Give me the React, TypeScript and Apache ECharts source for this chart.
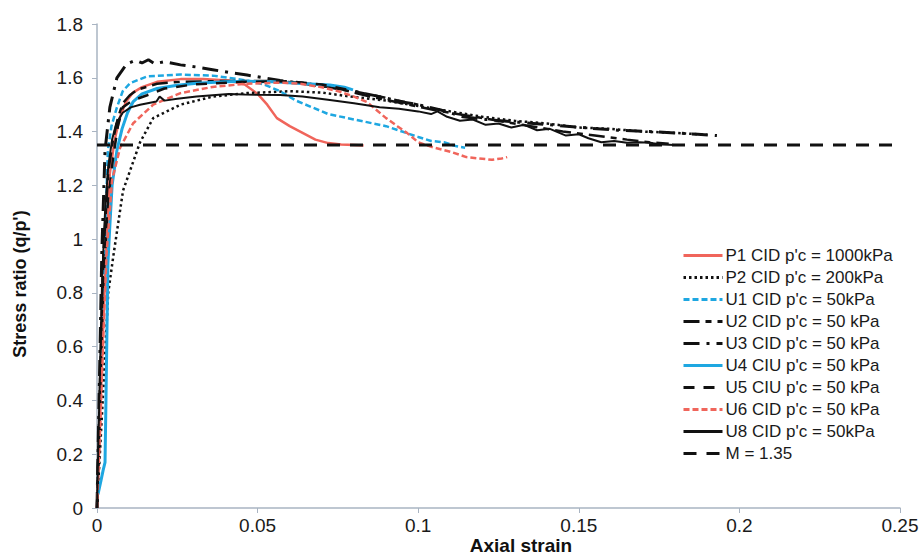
import { useEffect, useRef } from "react"
import * as echarts from "echarts"

// axial strain / stress ratio pairs
const p1Data = [
  [0, 0], [0.001, 0.35], [0.002, 0.7], [0.003, 1.0], [0.004, 1.245], [0.0055, 1.37],
  [0.0072, 1.455], [0.009, 1.51], [0.0112, 1.545], [0.014, 1.565], [0.0187, 1.585],
  [0.026, 1.595], [0.033, 1.595], [0.041, 1.59], [0.046, 1.575], [0.05, 1.54],
  [0.053, 1.5], [0.056, 1.45], [0.06, 1.42], [0.064, 1.395], [0.068, 1.37],
  [0.072, 1.357], [0.076, 1.352], [0.08, 1.35], [0.083, 1.348],
]
const p2Data = [
  [0, 0], [0.002, 0.45], [0.0035, 0.8], [0.005, 0.93], [0.0081, 1.18], [0.0134, 1.36],
  [0.0175, 1.45], [0.026, 1.5], [0.036, 1.53], [0.0467, 1.543], [0.06, 1.55],
  [0.07, 1.545], [0.079, 1.53], [0.09, 1.515], [0.1, 1.495], [0.11, 1.475],
  [0.12, 1.455], [0.13, 1.44], [0.14, 1.43], [0.15, 1.415], [0.16, 1.41],
  [0.17, 1.4], [0.18, 1.395], [0.19, 1.388],
]
const u1Data = [
  [0, 0], [0.001, 0.4], [0.002, 0.85], [0.0034, 1.33], [0.0045, 1.42], [0.0062, 1.49],
  [0.008, 1.55], [0.0103, 1.58], [0.0156, 1.605], [0.026, 1.612], [0.036, 1.608],
  [0.0467, 1.59], [0.052, 1.575], [0.057, 1.55], [0.062, 1.515], [0.067, 1.49],
  [0.072, 1.465], [0.078, 1.45], [0.084, 1.435], [0.09, 1.42], [0.095, 1.4],
  [0.1, 1.38], [0.104, 1.365], [0.108, 1.36], [0.112, 1.345], [0.1146, 1.34],
]
const u2Data = [
  [0, 0], [0.001, 0.5], [0.002, 0.95], [0.0035, 1.25], [0.005, 1.37], [0.0065, 1.45],
  [0.008, 1.505], [0.0102, 1.535], [0.0125, 1.555], [0.0187, 1.578], [0.026, 1.585],
  [0.04, 1.588], [0.055, 1.588], [0.065, 1.58], [0.075, 1.56], [0.085, 1.53],
  [0.095, 1.505], [0.105, 1.48], [0.115, 1.46], [0.125, 1.44], [0.135, 1.42],
  [0.145, 1.4], [0.155, 1.385], [0.165, 1.37], [0.172, 1.36], [0.178, 1.355],
]
const u3Data = [
  [0, 0], [0.0008, 0.5], [0.0015, 0.95], [0.0025, 1.33], [0.004, 1.49], [0.0062, 1.6],
  [0.0093, 1.652], [0.012, 1.665], [0.014, 1.655], [0.016, 1.667], [0.018, 1.652],
  [0.021, 1.66], [0.026, 1.648], [0.031, 1.64], [0.036, 1.63], [0.041, 1.62],
  [0.0467, 1.61], [0.052, 1.6], [0.057, 1.59], [0.065, 1.578], [0.0725, 1.565],
  [0.08, 1.55], [0.088, 1.53], [0.095, 1.51], [0.1, 1.5], [0.107, 1.48],
  [0.114, 1.455], [0.121, 1.445], [0.131, 1.435], [0.141, 1.425], [0.153, 1.413],
  [0.162, 1.405], [0.172, 1.4], [0.18, 1.395], [0.187, 1.39], [0.193, 1.385],
]
const u4Data = [
  [0.0003, 0.05], [0.0012, 0.1], [0.0019, 0.14], [0.0025, 0.17], [0.0028, 0.41],
  [0.0031, 0.66], [0.0034, 0.91], [0.004, 1.05], [0.0047, 1.2], [0.0062, 1.33],
  [0.0078, 1.41], [0.0095, 1.47], [0.0112, 1.51], [0.014, 1.54], [0.0187, 1.56],
  [0.025, 1.572], [0.031, 1.58], [0.04, 1.585], [0.0467, 1.587], [0.055, 1.585],
  [0.062, 1.58], [0.0725, 1.573], [0.077, 1.565], [0.0797, 1.555],
]
const u5Data = [
  [0, 0], [0.001, 0.45], [0.002, 0.85], [0.0035, 1.15], [0.005, 1.3], [0.0065, 1.42],
  [0.008, 1.49], [0.011, 1.515], [0.0156, 1.535], [0.021, 1.56], [0.03, 1.575],
  [0.045, 1.585], [0.06, 1.587], [0.07, 1.575], [0.078, 1.555], [0.084, 1.54],
  [0.09, 1.525], [0.096, 1.51], [0.1, 1.5],
]
const u6Data = [
  [0, 0], [0.001, 0.3], [0.002, 0.65], [0.003, 0.95], [0.0047, 1.22], [0.0072, 1.34],
  [0.0112, 1.43], [0.0175, 1.5], [0.026, 1.543], [0.036, 1.566], [0.0467, 1.578],
  [0.057, 1.582], [0.063, 1.578], [0.07, 1.565], [0.0757, 1.548], [0.08, 1.53],
  [0.084, 1.51], [0.087, 1.48], [0.09, 1.45], [0.0935, 1.42], [0.0965, 1.395],
  [0.1, 1.36], [0.105, 1.34], [0.11, 1.325], [0.115, 1.305], [0.119, 1.3],
  [0.123, 1.295], [0.126, 1.3], [0.1277, 1.305],
]
const u8Data = [
  [0, 0], [0.0008, 0.45], [0.0016, 0.85], [0.0025, 1.1], [0.0035, 1.27], [0.0047, 1.37],
  [0.006, 1.43], [0.008, 1.47], [0.0105, 1.49], [0.0134, 1.5], [0.0185, 1.512],
  [0.0195, 1.53], [0.021, 1.515], [0.025, 1.522], [0.031, 1.53], [0.036, 1.535],
  [0.041, 1.54], [0.046, 1.538], [0.05, 1.537], [0.057, 1.536], [0.064, 1.53],
  [0.0725, 1.517], [0.08, 1.505], [0.088, 1.49], [0.094, 1.485], [0.1, 1.475],
  [0.104, 1.465], [0.106, 1.475], [0.109, 1.455], [0.113, 1.44], [0.117, 1.445],
  [0.121, 1.425], [0.125, 1.43], [0.129, 1.415], [0.133, 1.425], [0.137, 1.405],
  [0.141, 1.41], [0.146, 1.385], [0.15, 1.39], [0.153, 1.375], [0.157, 1.36],
  [0.161, 1.365], [0.165, 1.358], [0.169, 1.36], [0.173, 1.357], [0.176, 1.352],
  [0.18, 1.35],
]
const mStrain = [0, 0.25]
const mValue = 1.35

const FONT = "'Liberation Sans', Arial, sans-serif"
const RED = "#f0655b"
const BLUE = "#1ea7e1"
const AXIS = "#a9b4c2"

function line(name: string, data: number[][], color: string, width: number, type: any) {
  return {
    name,
    type: "line",
    data,
    symbol: "none",
    showSymbol: false,
    lineStyle: { color, width, type, cap: "butt" },
    itemStyle: { color },
  }
}

export default function App() {
  const chartRef = useRef<HTMLDivElement>(null)

  useEffect(() => {
    if (!chartRef.current) return
    const chart = echarts.init(chartRef.current, undefined, { renderer: "svg" })

    chart.setOption({
      animation: false,
      backgroundColor: "#ffffff",
      grid: { left: 97, right: 22, top: 24, bottom: 48 },
      xAxis: {
        type: "value",
        min: 0,
        max: 0.25,
        interval: 0.05,
        axisLine: { show: true, lineStyle: { color: AXIS, width: 1.5 } },
        axisTick: { show: true, length: 5, lineStyle: { color: AXIS } },
        splitLine: { show: false },
        axisLabel: { color: "#1a1a1a", fontSize: 19, fontFamily: FONT, margin: 8 },
      },
      yAxis: {
        type: "value",
        min: 0,
        max: 1.8,
        interval: 0.2,
        axisLine: { show: true, lineStyle: { color: AXIS, width: 1.5 } },
        axisTick: { show: true, length: 5, lineStyle: { color: AXIS } },
        splitLine: { show: false },
        axisLabel: { color: "#1a1a1a", fontSize: 19, fontFamily: FONT, margin: 14 },
      },
      legend: {
        orient: "vertical",
        left: 682,
        top: 247,
        padding: 0,
        itemWidth: 39,
        itemHeight: 14,
        itemGap: 5,
        itemStyle: { opacity: 0 },
        lineStyle: { width: 3 },
        textStyle: { color: "#1a1a1a", fontSize: 17, fontFamily: FONT, padding: [0, 0, 0, -2] },
      },
      graphic: [
        {
          type: "text",
          x: 20,
          y: 284,
          rotation: Math.PI / 2,
          style: {
            text: "Stress ratio (q/p')",
            fontSize: 18,
            fontWeight: "bold",
            fontFamily: FONT,
            fill: "#111",
            textAlign: "center",
            textVerticalAlign: "middle",
          },
        },
        {
          type: "text",
          x: 521,
          y: 545,
          style: {
            text: "Axial strain",
            fontSize: 19,
            fontWeight: "bold",
            fontFamily: FONT,
            fill: "#111",
            textAlign: "center",
            textVerticalAlign: "middle",
          },
        },
      ],
      series: [
        line("P1 CID p'c = 1000kPa", p1Data, RED, 2.5, "solid"),
        line("P2 CID p'c = 200kPa", p2Data, "#111", 2.5, [2.5, 3]),
        line("U1 CID p'c = 50kPa", u1Data, BLUE, 2.5, [6, 3]),
        line("U2 CID p'c = 50 kPa", u2Data, "#111", 2.5, [16, 6, 6, 6]),
        line("U3 CID p'c = 50 kPa", u3Data, "#111", 3, [16, 7, 3, 7]),
        line("U4 CIU p'c = 50 kPa", u4Data, BLUE, 3, "solid"),
        line("U5 CIU p'c = 50 kPa", u5Data, "#111", 2.5, [11, 9]),
        line("U6 CID p'c = 50 kPa", u6Data, RED, 2.5, [6, 3]),
        line("U8 CID p'c = 50kPa", u8Data, "#111", 2, "solid"),
        line("M = 1.35", mStrain.map((s) => [s, mValue]), "#111", 3, [13, 10]),
      ],
    })

    return () => chart.dispose()
  }, [])

  return (
    <div
      ref={chartRef}
      style={{ position: "absolute", left: 0, top: 0, width: 922, height: 556 }}
    />
  )
}
